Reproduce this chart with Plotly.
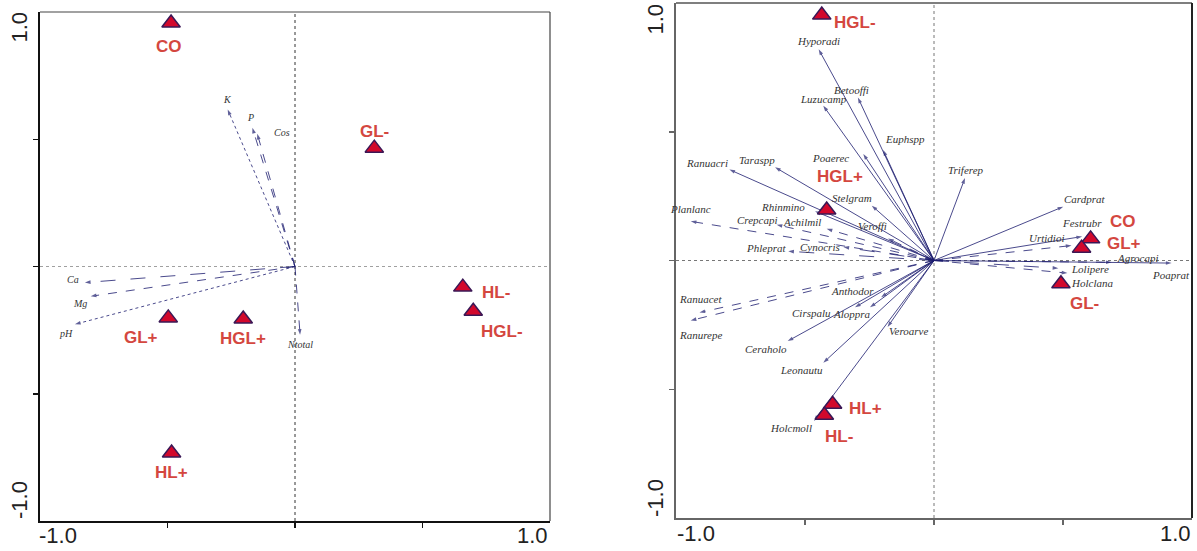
import plotly.graph_objects as go

# ---------------- data: left panel (environmental variables) ----------------
env_names = ["K", "P", "Cos", "Ca", "Mg", "pH", "Ntotal"]
env_x = [-0.264, -0.167, -0.148, -0.824, -0.801, -0.863, 0.020]
env_y = [0.617, 0.545, 0.522, -0.063, -0.117, -0.227, -0.268]

site_names_L = ["CO", "GL-", "HL-", "HGL-", "GL+", "HGL+", "HL+"]
site_x_L = [-0.486, 0.311, 0.658, 0.699, -0.497, -0.203, -0.484]
site_y_L = [0.957, 0.465, -0.081, -0.176, -0.202, -0.206, -0.733]

# ---------------- data: right panel (species) ----------------
sp_names = ["Hyporadi", "Betooffi", "Luzucamp", "Euphspp", "Poaerec", "Ranuacri",
            "Taraspp", "Stelgram", "Rhinmino", "Planlanc", "Crepcapi", "Achilmil",
            "Veroffi", "Phleprat", "Cynocris", "Triferep", "Cardprat", "Festrubr",
            "Urtidioi", "Agrocapi", "Poaprat", "Lolipere", "Holclana", "Ranuacet",
            "Ranurepe", "Anthodor", "Cirspalu", "Aloppra", "Ceraholo", "Leonautu",
            "Veroarve", "Holcmoll"]
sp_x = [-0.447, -0.295, -0.429, -0.197, -0.274, -0.793,
        -0.616, -0.241, -0.461, -0.943, -0.610, -0.416,
        -0.178, -0.565, -0.351, 0.120, 0.501, 0.574,
        0.533, 0.689, 0.921, 0.482, 0.517, -0.909,
        -0.943, -0.205, -0.306, -0.248, -0.567, -0.429,
        -0.180, -0.465]
sp_y = [0.820, 0.633, 0.601, 0.429, 0.414, 0.353,
        0.362, 0.213, 0.191, 0.152, 0.139, 0.123,
        0.085, 0.036, 0.052, 0.320, 0.209, 0.093,
        0.058, -0.007, -0.010, -0.030, -0.049, -0.202,
        -0.233, -0.143, -0.182, -0.182, -0.313, -0.397,
        -0.258, -0.623]

site_names_R = ["HGL-", "HGL+", "CO", "GL+", "GL-", "HL+", "HL-"]
site_x_R = [-0.435, -0.416, 0.607, 0.572, 0.492, -0.393, -0.425]
site_y_R = [0.953, 0.196, 0.084, 0.048, -0.090, -0.558, -0.601]

# ---------------- styles / label offsets (pixels) ----------------
env_dash = {"K": "dot", "P": "dash", "Cos": "dash", "Ca": "longdash",
            "Mg": "dash", "pH": "dot", "Ntotal": "dash"}
env_off = {"K": (0, 10), "P": (-2, 10), "Cos": (25, 1), "Ca": (-12, 3),
           "Mg": (-11, -7), "pH": (-9, -9), "Ntotal": (0, -10)}

site_off_L = {"CO": (-2, -24), "GL-": (0, 17), "HL-": (33, -5), "HGL-": (29, -20),
              "GL+": (-27, -20), "HGL+": (0, -20), "HL+": (0, -19)}
site_off_R = {"HGL-": (33, -7), "HGL+": (13, 34), "CO": (32, 17), "GL+": (42, 5),
              "GL-": (24, -20), "HL+": (33, -4), "HL-": (15, -21)}

sp_off = {"Hyporadi": (0, 8), "Betooffi": (-6, 8), "Luzucamp": (0, 7), "Euphspp": (22, 11),
          "Poaerec": (-33, -4), "Ranuacri": (-22, 7), "Taraspp": (-18, 7), "Stelgram": (-20, 8),
          "Rhinmino": (-32, 4), "Planlanc": (0, 12), "Crepcapi": (-19, 5), "Achilmil": (-25, 7),
          "Veroffi": (-16, 13), "Phleprat": (-22, 3), "Cynocris": (-23, 0), "Triferep": (1, 8),
          "Cardprat": (21, 8), "Festrubr": (0, 14), "Urtidioi": (-25, 8), "Agrocapi": (26, 4),
          "Poaprat": (-1, -12), "Lolipere": (32, -1), "Holclana": (25, -10), "Ranuacet": (1, 14),
          "Ranurepe": (10, -14), "Anthodor": (-29, 6), "Cirspalu": (-44, -6), "Aloppra": (-18, -7),
          "Ceraholo": (-22, -8), "Leonautu": (-22, -7), "Veroarve": (21, -4), "Holcmoll": (-23, -7)}
sp_dash = {"Planlanc": "dash", "Crepcapi": "dash", "Phleprat": "longdash", "Cynocris": "longdash",
           "Ranuacet": "dash", "Ranurepe": "dash", "Urtidioi": "dash", "Agrocapi": "dash",
           "Lolipere": "longdash", "Holclana": "dash", "Achilmil": "dash", "Veroffi": "dash"}

ARROW = "#1c1c6e"
RED_FILL = "#d2082c"
RED_EDGE = "#3a1856"
RED_TXT = "#d4473f"
SERIF = "Liberation Serif"
SANS = "Liberation Sans"

fig = go.Figure()


def add_arrow(x, y, dash, xa, ya):
    fig.add_trace(go.Scatter(
        x=[0, x], y=[0, y], xaxis=xa, yaxis=ya, mode="lines+markers",
        line=dict(color=ARROW, width=0.8, dash=dash),
        marker=dict(symbol=["circle", "arrow"], size=[0, 6], angleref="previous",
                    color=ARROW, line=dict(width=0)),
        hoverinfo="skip", showlegend=False))


annotations = []

# left arrows
for n, x, y in zip(env_names, env_x, env_y):
    add_arrow(x, y, env_dash.get(n, "solid"), "x", "y")
    dx, dy = env_off[n]
    annotations.append(dict(x=x, y=y, xref="x", yref="y", text="<i>%s</i>" % n,
                            showarrow=False, xshift=dx, yshift=dy,
                            font=dict(family=SERIF, size=10, color="#333333")))

# right arrows
for n, x, y in zip(sp_names, sp_x, sp_y):
    add_arrow(x, y, sp_dash.get(n, "solid"), "x2", "y2")
    dx, dy = sp_off[n]
    annotations.append(dict(x=x, y=y, xref="x2", yref="y2", text="<i>%s</i>" % n,
                            showarrow=False, xshift=dx, yshift=dy,
                            font=dict(family=SERIF, size=11, color="#333333")))

# site points
for xs, ys, names, offs, xa, ya in [
        (site_x_L, site_y_L, site_names_L, site_off_L, "x", "y"),
        (site_x_R, site_y_R, site_names_R, site_off_R, "x2", "y2")]:
    fig.add_trace(go.Scatter(
        x=xs, y=ys, xaxis=xa, yaxis=ya, mode="markers",
        marker=dict(symbol="triangle-up", size=16, color=RED_FILL,
                    line=dict(color=RED_EDGE, width=1.5)),
        hoverinfo="skip", showlegend=False))
    for n, x, y in zip(names, xs, ys):
        dx, dy = offs[n]
        annotations.append(dict(x=x, y=y, xref=xa, yref=ya, text="<b>%s</b>" % n,
                                showarrow=False, xshift=dx, yshift=dy,
                                font=dict(family=SANS, size=17, color=RED_TXT)))

W, H = 1197, 551


def px2paper(px, py):
    return px / W, 1 - py / H


# tick-end labels
TICKF = dict(family=SANS, size=22, color="#222222")
for txt, px, py, xanc in [("-1.0", 37, 535, "left"), ("1.0", 550, 535, "right"),
                          ("-1.0", 675, 533, "left"), ("1.0", 1193, 533, "right")]:
    xp, yp = px2paper(px, py)
    annotations.append(dict(x=xp, y=yp, xref="paper", yref="paper", text=txt, showarrow=False,
                            xanchor=xanc, yanchor="middle", font=TICKF))
for txt, px, py, yanc in [("1.0", 19, 10, "top"), ("-1.0", 19, 521, "bottom"),
                          ("1.0", 655, 2, "top"), ("-1.0", 655, 519, "bottom")]:
    xp, yp = px2paper(px, py)
    annotations.append(dict(x=xp, y=yp, xref="paper", yref="paper", text=txt, showarrow=False,
                            xanchor="center", yanchor=yanc, textangle=-90, font=TICKF))

ax_common = dict(range=[-1, 1], showgrid=False, zeroline=False, showticklabels=False,
                 ticks="outside", tickvals=[-0.5, 0, 0.5], ticklen=5, tickwidth=1.5,
                 fixedrange=True, showline=True, linewidth=2, mirror=False)

fig.update_layout(
    width=W, height=H, margin=dict(l=0, r=0, t=0, b=0),
    paper_bgcolor="white", plot_bgcolor="white",
    xaxis=dict(domain=[40 / W, 550 / W], anchor="y", linecolor="#111111", tickcolor="#111111", **ax_common),
    yaxis=dict(domain=[1 - 521 / H, 1 - 12 / H], anchor="x", linecolor="#111111", tickcolor="#111111", **ax_common),
    xaxis2=dict(domain=[676 / W, 1192 / W], anchor="y2", linecolor="#666666", tickcolor="#666666", **ax_common),
    yaxis2=dict(domain=[1 - 518 / H, 1 - 3 / H], anchor="x2", linecolor="#666666", tickcolor="#666666", **ax_common),
    annotations=annotations,
    shapes=[
        dict(type="line", xref="x domain", yref="y domain", x0=0, x1=1, y0=1, y1=1,
             line=dict(color="#444444", width=1.2)),
        dict(type="line", xref="x domain", yref="y domain", x0=1, x1=1, y0=0, y1=1,
             line=dict(color="#444444", width=1.2)),
        dict(type="line", xref="x", yref="y domain", x0=0, x1=0, y0=0, y1=1,
             line=dict(color="#333333", width=1, dash="dot"), layer="below"),
        dict(type="line", xref="x domain", yref="y", x0=0, x1=1, y0=0, y1=0,
             line=dict(color="#a0a0a0", width=1, dash="dot"), layer="below"),
        dict(type="line", xref="x2 domain", yref="y2 domain", x0=0, x1=1, y0=1, y1=1,
             line=dict(color="#555555", width=1.5)),
        dict(type="line", xref="x2 domain", yref="y2 domain", x0=1, x1=1, y0=0, y1=1,
             line=dict(color="#222222", width=2)),
        dict(type="line", xref="x2", yref="y2 domain", x0=0, x1=0, y0=0, y1=1,
             line=dict(color="#777777", width=1, dash="dot"), layer="below"),
        dict(type="line", xref="x2 domain", yref="y2", x0=0, x1=1, y0=0, y1=0,
             line=dict(color="#777777", width=1, dash="dot"), layer="below"),
    ],
)

fig.write_html("out.html", config={"displayModeBar": False, "staticPlot": True},
               post_script="document.body.style.margin='0';document.body.style.overflow='hidden';")
